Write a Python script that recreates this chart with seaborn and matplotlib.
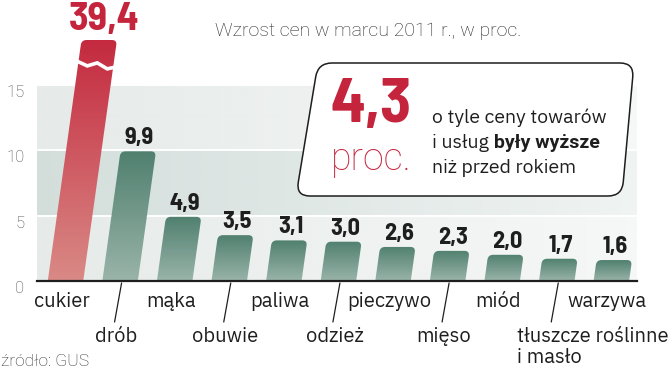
import numpy as np
import pandas as pd
import seaborn as sns
import matplotlib
matplotlib.use("Agg")
import matplotlib.pyplot as plt
from matplotlib.path import Path
from matplotlib.patches import PathPatch
from matplotlib.colors import LinearSegmentedColormap, to_rgb
from matplotlib.transforms import IdentityTransform

# data
categories = ["cukier", "drób", "mąka", "obuwie", "paliwa", "odzież",
              "pieczywo", "mięso", "miód", "tłuszcze roślinne\ni masło", "warzywa"]
values = [39.4, 9.9, 4.9, 3.5, 3.1, 3.0, 2.6, 2.3, 2.0, 1.7, 1.6]
highlight = "cukier"
yticks = [0, 5, 10, 15]
title = "Wzrost cen w marcu 2011 r., w proc."
source = "źródło: GUS"
headline = "4,3"
headline_unit = "proc."

RED = "#c4253d"
INK = "#1e1e1e"

sns.set_style("white")
plt.rcParams["font.family"] = ["IBM Plex Sans", "DejaVu Sans"]

W, H = 670, 371
fig = plt.figure(figsize=(W / 100, H / 100), dpi=100)
ax = fig.add_axes([37 / W, 90 / H, 600 / W, 241 / H])

df = pd.DataFrame({"kategoria": categories, "wzrost": values})
sns.barplot(data=df, x="kategoria", y="wzrost", width=0.65, color="#5b8676", ax=ax)
ax.set_xlim(-0.522, 10.47)
ax.set_ylim(0, 18.4)
ax.set_autoscale_on(False)
ax.set_xlabel("")
ax.set_ylabel("")
ax.tick_params(axis="x", length=0, labelbottom=False)
ax.set_yticks(yticks)
ax.set_yticklabels([str(t) for t in yticks], fontsize=12, color="#4a4a4a",
                   family="Roboto", fontweight="light", va="top")
ax.tick_params(axis="y", length=0, pad=9)
for s in ["top", "right", "left"]:
    ax.spines[s].set_visible(False)
ax.spines["bottom"].set_color(INK)
ax.spines["bottom"].set_linewidth(1.6)
ax.spines["bottom"].set_zorder(6)

# background bands, fading to the right
band_cols = ["#e6ebe9", "#d3dedb", "#e6ebe9"]
x0l, x1l = ax.get_xlim()
for lo, hi, c in zip(yticks[:-1], yticks[1:], band_cols):
    rgba = np.zeros((1, 200, 4))
    rgba[..., :3] = to_rgb(c)
    rgba[..., 3] = np.linspace(1.0, 0.35, 200)
    ax.imshow(rgba, extent=(x0l, x1l, lo, hi), aspect="auto", zorder=0, interpolation="bilinear")
for t in yticks[1:]:
    ax.axhline(t, color="white", lw=1.4, zorder=1)
ax.set_xlim(x0l, x1l)
ax.set_ylim(0, 18.4)

# slanted bars with rounded tops and a vertical gradient
k = 0.14
r = 5
ident = IdentityTransform()
ytop_lim = ax.get_ylim()[1]
for rect, cat, val in zip(ax.patches, categories, values):
    rect.set_visible(False)
    bx, bw = rect.get_x(), rect.get_width()
    X0, Y0 = ax.transData.transform((bx, 0))
    X1, Yt = ax.transData.transform((bx + bw, min(rect.get_height(), ytop_lim)))
    hh = Yt - Y0
    pts = [(X0, Y0), (X0, Yt - r), (X0, Yt), (X0 + r, Yt), (X1 - r, Yt), (X1, Yt),
           (X1, Yt - r), (X1, Y0), (X0, Y0)]
    pts = [(x + k * (y - Y0), y) for x, y in pts]
    codes = [Path.MOVETO, Path.LINETO, Path.CURVE3, Path.CURVE3, Path.LINETO,
             Path.CURVE3, Path.CURVE3, Path.LINETO, Path.CLOSEPOLY]
    clip = PathPatch(Path(pts, codes), transform=ident, facecolor="none", edgecolor="none")
    ax.add_patch(clip)
    if cat == highlight:
        cmap = LinearSegmentedColormap.from_list("r", ["#d98a86", "#c42a3f"])
    else:
        cmap = LinearSegmentedColormap.from_list("g", ["#9ab4aa", "#50806f"])
    grad = np.linspace(0, 1, 256).reshape(-1, 1)
    im = ax.imshow(grad, cmap=cmap, origin="lower", aspect="auto",
                   extent=(X0 - 2, X1 + k * hh + 2, Y0, Yt), transform=ident, zorder=3)
    im.set_clip_path(clip)
    xc_top = (X0 + X1) / 2 + k * hh
    lab = f"{val:.1f}".replace(".", ",")
    if cat == highlight:
        # axis break
        yb = Y0 + 0.905 * hh
        xl = X0 + k * (yb - Y0)
        zz = [(-4, 3), (9, -3), (19, 0), (29, -6), (42, -3)]
        ax.plot([xl + dx for dx, dy in zz], [yb + dy for dx, dy in zz], color="white",
                lw=2.6, transform=ident, clip_on=False, zorder=4, solid_joinstyle="miter")
        ax.text(xc_top + 5, Yt + 10, lab, transform=ident, ha="center", va="baseline",
                fontsize=29, fontweight="bold", color=RED, family="Barlow Semi Condensed")
    else:
        ax.text(xc_top + 1, Yt + 7, lab, transform=ident, ha="center", va="baseline",
                fontsize=17.5, fontweight="bold", color=INK, family="Barlow Semi Condensed")

# category labels, staggered in two rows
for i, cat in enumerate(categories):
    xc, y0 = ax.transData.transform((i, 0))
    lines = cat.split("\n")
    if i % 2 == 0:
        ax.text(xc - 4, y0 - 26, cat, transform=ident, ha="center", va="baseline",
                fontsize=14.5, color=INK)
    else:
        ax.plot([xc + 1.5, xc - 5.5], [y0 - 2, y0 - 41], color=INK, lw=0.9,
                transform=ident, clip_on=False)
        if len(lines) > 1:
            for j, ln in enumerate(lines):
                ax.text(xc - 40, y0 - 61 - 21 * j, ln, transform=ident, ha="left",
                        va="baseline", fontsize=14.5, color=INK)
        else:
            ax.text(xc - 4, y0 - 61, cat, transform=ident, ha="center", va="baseline",
                    fontsize=14.5, color=INK)

# title and source
fig.text(368 / W, 1 - 31 / H, title, ha="center", va="center", fontsize=14,
         color="#262626", family="Roboto", fontweight="light")
fig.text(0.002, 1 - 361 / H, source, ha="left", va="center", fontsize=12.5,
         color="#333333", family="Roboto", fontweight="light")

# callout box in pixel coordinates
ov = fig.add_axes([0, 0, 1, 1])
ov.set_xlim(0, W)
ov.set_ylim(H, 0)
ov.axis("off")
ov.patch.set_alpha(0)

corners = [(318, 63), (634, 63), (622, 196), (296, 196)]
rb = 14
verts, cds = [], []
n = len(corners)
for j in range(n):
    p = np.array(corners[j], float)
    prv = np.array(corners[j - 1], float)
    nxt = np.array(corners[(j + 1) % n], float)
    a = p + (prv - p) / np.linalg.norm(prv - p) * rb
    b = p + (nxt - p) / np.linalg.norm(nxt - p) * rb
    verts += [tuple(a), tuple(p), tuple(b)]
    cds += [Path.MOVETO if j == 0 else Path.LINETO, Path.CURVE3, Path.CURVE3]
verts.append(verts[0])
cds.append(Path.CLOSEPOLY)
ov.add_patch(PathPatch(Path(verts, cds), facecolor="white", edgecolor=INK, lw=1.1))

ov.text(371, 122, headline, ha="center", va="baseline", fontsize=46, fontweight="bold",
        color=RED, family="Barlow Semi Condensed")
ov.text(371, 170, headline_unit, ha="center", va="baseline", fontsize=27,
        fontweight="light", color=RED, family="Roboto")

fs = 14
ov.text(432, 123, "o tyle ceny towarów", ha="left", va="baseline", fontsize=fs, color=INK)
t1 = ov.text(432, 148, "i usług", ha="left", va="baseline", fontsize=fs, color=INK)
rend = fig.canvas.get_renderer()
bb = t1.get_window_extent(rend)
ov.text(bb.x1 + 5, 148, "były wyższe", ha="left", va="baseline", fontsize=14,
        fontweight="bold", color=INK, family="Roboto")
ov.text(432, 173, "niż przed rokiem", ha="left", va="baseline", fontsize=fs, color=INK)

fig.savefig("out.png", dpi=100)
